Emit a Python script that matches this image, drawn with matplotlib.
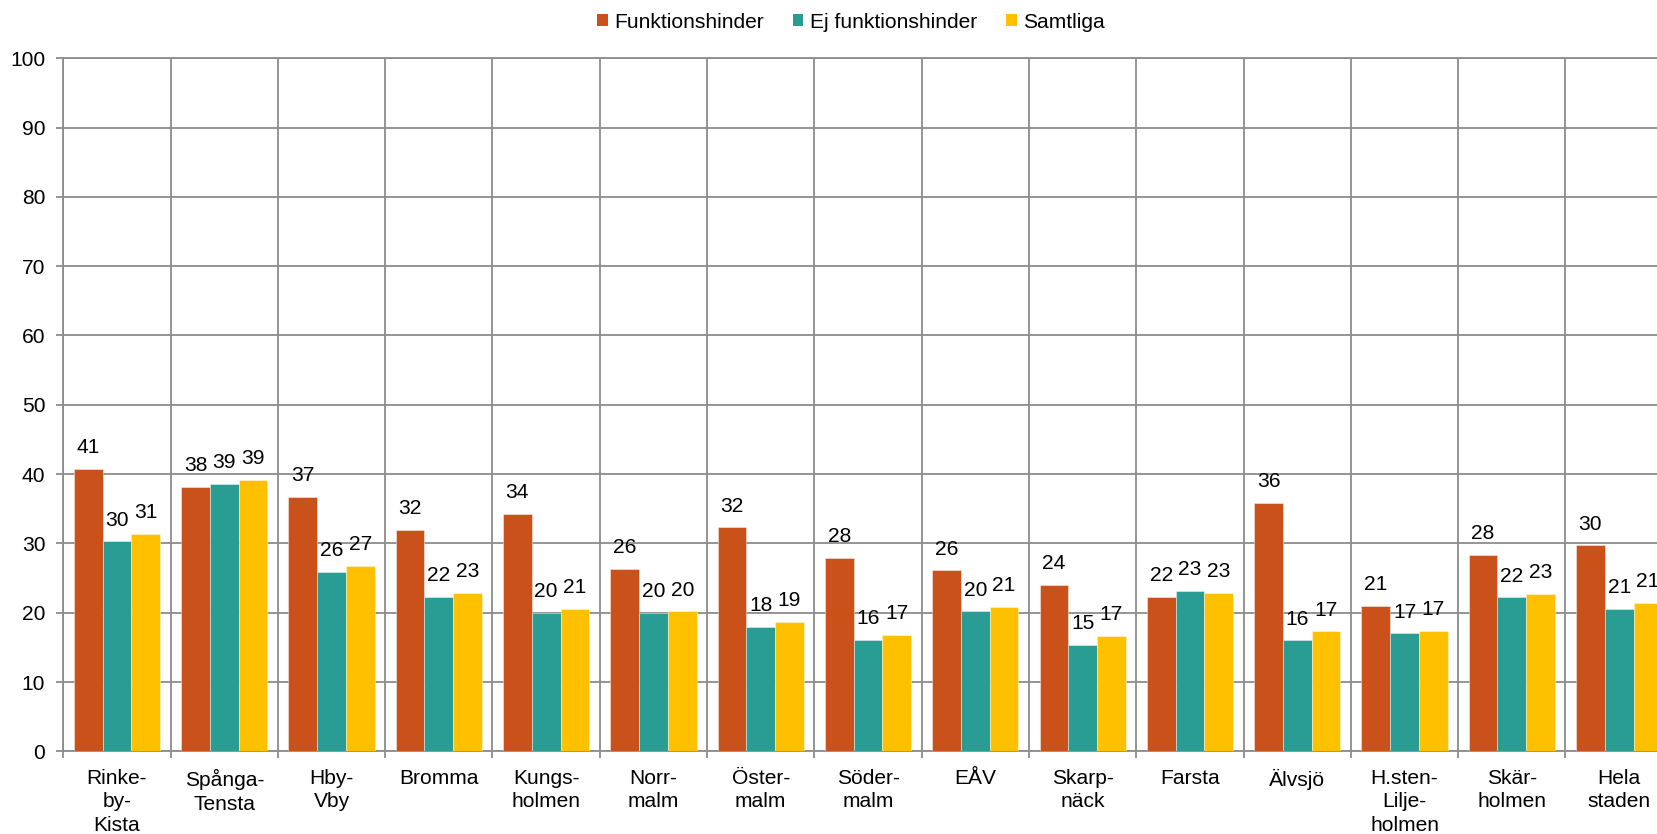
import matplotlib
matplotlib.use("Agg")
import matplotlib.pyplot as plt
from matplotlib.patches import Patch
import numpy as np

categories = ["Rinke-\nby-\nKista", "Spånga-\nTensta", "Hby-\nVby", "Bromma",
              "Kungs-\nholmen", "Norr-\nmalm", "Öster-\nmalm", "Söder-\nmalm",
              "EÅV", "Skarp-\nnäck", "Farsta", "Älvsjö",
              "H.sten-\nLilje-\nholmen", "Skär-\nholmen", "Hela\nstaden"]
series_names = ["Funktionshinder", "Ej funktionshinder", "Samtliga"]
funktionshinder = [40.8, 38.1, 36.7, 32.0, 34.3, 26.3, 32.3, 27.9, 26.1, 24.0, 22.3, 35.8, 21.0, 28.3, 29.7]
ej_funktionshinder = [30.3, 38.6, 25.9, 22.3, 20.0, 20.0, 17.9, 16.1, 20.2, 15.4, 23.1, 16.0, 17.0, 22.2, 20.6]
samtliga = [31.4, 39.2, 26.8, 22.8, 20.6, 20.2, 18.7, 16.8, 20.8, 16.6, 22.9, 17.3, 17.4, 22.7, 21.4]
y_ticks = [0, 10, 20, 30, 40, 50, 60, 70, 80, 90, 100]

colors = ["#CB511B", "#299D93", "#FFC000"]
grid_c = "#8C8C8C"

plt.rcParams['font.family'] = ['Liberation Sans', 'DejaVu Sans']
FS = 15.1

W, H = 1658, 834
fig = plt.figure(figsize=(W / 100, H / 100), dpi=100)
left_px, right_px = 63.3, 63.3 + 15 * 107.3
top_px, bottom_px = 58.3, 751.3
ax = fig.add_axes([left_px / W, (H - bottom_px) / H,
                   (right_px - left_px) / W, (bottom_px - top_px) / H])

x = np.arange(len(categories))
bw = 0.268
data = [funktionshinder, ej_funktionshinder, samtliga]
for i, (vals, c) in enumerate(zip(data, colors)):
    pos = x + (i - 1) * bw
    bars = ax.bar(pos, vals, width=bw, color=c, edgecolor=(1, 1, 1, 0.5),
                  linewidth=0.6, zorder=3)
    for b, v in zip(bars, vals):
        ax.annotate(f"{v:.0f}", (b.get_x() + b.get_width() / 2, v),
                    xytext=(0, 8.5), textcoords="offset points",
                    ha="center", va="bottom", fontsize=FS, color="#000000",
                    zorder=4)

ax.set_xlim(-0.5, len(categories) - 0.5)
ax.set_ylim(0, 100)
ax.set_yticks(y_ticks)
ax.set_yticklabels([str(t) for t in y_ticks], fontsize=FS)
ax.set_xticks(x)
ax.set_xticklabels(categories, fontsize=FS, linespacing=1.32)
ax.set_xticks(np.arange(len(categories) + 1) - 0.5, minor=True)

ax.tick_params(axis="x", which="major", length=0, pad=12.5)
ax.tick_params(axis="x", which="minor", length=5, width=1.3, color=grid_c, direction="out")
ax.tick_params(axis="y", which="major", length=5, width=1.3, color=grid_c, direction="out", pad=8)

ax.grid(axis="y", which="major", color=grid_c, linewidth=1.3, zorder=0)
ax.grid(axis="x", which="minor", color=grid_c, linewidth=1.3, zorder=0)
ax.set_axisbelow(True)
for s in ["left", "bottom", "top"]:
    ax.spines[s].set_color(grid_c)
    ax.spines[s].set_linewidth(1.3)
ax.spines["right"].set_visible(False)

handles = [Patch(facecolor=c, edgecolor="none") for c in colors]
fig.legend(handles, series_names, loc="center", bbox_to_anchor=(851 / W, 1 - 22 / H),
           ncol=3, frameon=False, fontsize=FS, handlelength=0.5, handleheight=0.5,
           handletextpad=0.3, columnspacing=1.4, borderaxespad=0)

fig.savefig("out.png", dpi=100)
